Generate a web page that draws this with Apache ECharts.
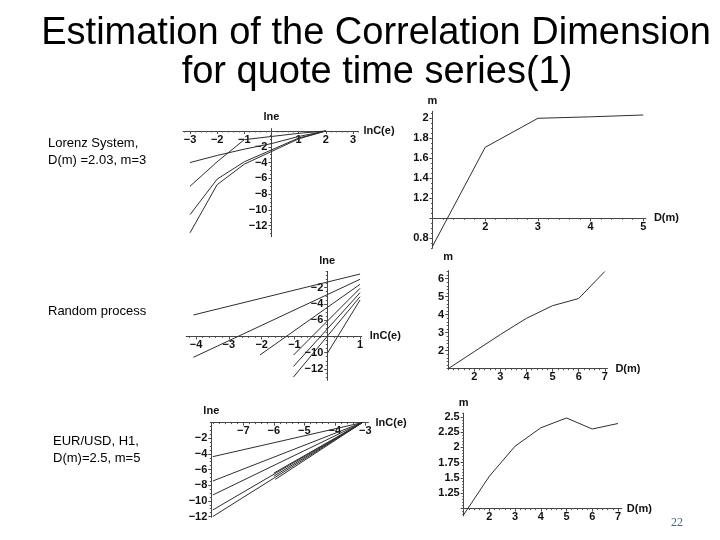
<!DOCTYPE html>
<html><head><meta charset="utf-8">
<script src="https://cdn.jsdelivr.net/npm/echarts@6/dist/echarts.min.js"></script>
<style>html,body{margin:0;padding:0;background:#fff}#c{width:720px;height:540px}</style>
</head><body><div id="c"></div>
<script>
// ---------- DATA ----------
// Panel 1: Lorenz system, ln C(e) vs ln e curves
const lorenzLnE = [-3, -2, -1, 0, 1, 2];
const lorenzC1 = [-4.0, -3.1, -2.3, -1.6, -0.7, 0];
const lorenzC2 = [-7.0, -3.9, -1.1, -0.7, -0.3, 0];
const lorenzC3 = [-10.6, -6.1, -3.9, -2.4, -0.9, 0];
const lorenzC4 = [-12.9, -6.8, -4.2, -2.6, -1.0, 0];
// Panel 2: Lorenz D(m)
const lorenzM = [1, 2, 3, 4, 5];
const lorenzD = [0.72, 1.71, 2.0, 2.015, 2.033];
// Panel 3: random process, straight segments (start -> end)
const randStartX = [-4.08, -4.08, -2.05, -1.03, -1.03, -1.03, 0];
const randStartY = [-5.36, -10.57, -10.28, -10.3, -11.7, -13.0, -10.1];
const randEndX = [1, 1, 1, 1, 1, 1, 1];
const randEndY = [-0.32, -0.97, -1.59, -2.08, -2.62, -3.11, -3.52];
// Panel 4: random process D(m)
const randM = [1, 2, 3, 4, 5, 6, 7];
const randD = [1, 1.95, 2.9, 3.8, 4.5, 4.9, 6.4];
// Panel 5: EUR/USD H1 curves
const eurStartX = [-8, -8, -8, -8, -8, -6.0, -6.0, -5.95];
const eurStartY = [-4.35, -7.46, -9.25, -11.16, -12.0, -6.45, -6.85, -7.25];
const eurKinkX = [null, null, null, null, -7.05, null, null, null];
const eurKinkY = [null, null, null, null, -9.67, null, null, null];
const eurEndX = [-3.1, -3.1, -3.1, -3.1, -3.1, -3.1, -3.1, -3.1];
const eurEndY = [0, 0, 0, 0, 0, 0, 0, 0];
// Panel 6: EUR/USD D(m)
const eurM = [1, 2, 3, 4, 5, 6, 7];
const eurD = [0.9, 1.53, 2.02, 2.32, 2.48, 2.3, 2.39];

// Tick labels
const p1XLabels = [-3, -2, -1, 1, 2, 3];
const p1YLabels = [-12, -10, -8, -6, -4, -2];
const p2XLabels = [2, 3, 4, 5];
const p2YLabels = [0.8, 1.2, 1.4, 1.6, 1.8, 2];
const p3XLabels = [-4, -3, -2, -1, 1];
const p3YLabels = [-12, -10, -6, -4, -2];
const p4XLabels = [2, 3, 4, 5, 6, 7];
const p4YLabels = [2, 3, 4, 5, 6];
const p5XLabels = [-7, -6, -5, -4, -3];
const p5YLabels = [-12, -10, -8, -6, -4, -2];
const p6XLabels = [2, 3, 4, 5, 6, 7];
const p6YLabels = [1.25, 1.5, 1.75, 2, 2.25, 2.5];

// ---------- BUILD ----------
const FONT = "'Liberation Sans', Arial, sans-serif";
const LINE = '#2e2e2e';
const zip = (xs, ys) => xs.map((x, i) => [x, ys[i]]);
function steps(min, max, step) {
  const a = []; let k = Math.ceil(min / step - 1e-9);
  for (let v = k * step; v <= max + 1e-9; k++, v = k * step) a.push(+v.toFixed(4));
  return a;
}
const fmt = v => String(+(+v).toFixed(2)).replace('-', '\u2212');

const lorenzSeries = [lorenzC1, lorenzC2, lorenzC3, lorenzC4].map(c => zip(lorenzLnE, c));
const randSeries = randStartX.map((_, i) => [[randStartX[i], randStartY[i]], [randEndX[i], randEndY[i]]]);
const eurSeries = eurStartX.map((_, i) => {
  const d = [[eurStartX[i], eurStartY[i]]];
  if (eurKinkX[i] !== null) d.push([eurKinkX[i], eurKinkY[i]]);
  d.push([eurEndX[i], eurEndY[i]]);
  return d;
});

// x.cross = y value where the x axis sits; y.cross = x value where the y axis sits
const panels = [
  { g: [183.2, 128.6, 175.2, 108.2],
    x: { min: -3.25, max: 3.2, labels: p1XLabels, major: [-3,-2,-1,1,2,3], ms: 0.2, name: 'lnC(e)', gap: 5, cross: 0 },
    y: { min: -13.4, max: 0.3, labels: p1YLabels, major: p1YLabels, ms: 0.5, name: 'lne', gap: 6, cross: 0 },
    s: lorenzSeries },
  { g: [432.5, 111.3, 213.4, 137],
    x: { min: 1, max: 5.05, labels: p2XLabels, major: [2,3,4,5], ms: 0.2, name: 'D(m)', gap: 8, cross: 1 },
    y: { min: 0.7, max: 2.07, labels: p2YLabels, major: [0.8,1,1.2,1.4,1.6,1.8,2], ms: 0.05, name: 'm', gap: 5, cross: 1 },
    s: [zip(lorenzM, lorenzD)] },
  { g: [186.2, 271.4, 175.5, 108.9],
    x: { min: -4.3, max: 1.05, labels: p3XLabels, major: [-4,-3,-2,-1,1], ms: 0.2, name: 'lnC(e)', gap: 8, cross: -8 },
    y: { min: -13.4, max: 0, labels: p3YLabels, major: [-12,-10,-8,-6,-4,-2], ms: 0.5, name: 'lne', gap: 5, cross: 0 },
    s: randSeries },
  { g: [448.2, 270.6, 159.2, 98.1],
    x: { min: 1, max: 7.1, labels: p4XLabels, major: p4XLabels, ms: 0.2, name: 'D(m)', gap: 8, cross: 1 },
    y: { min: 1, max: 6.45, labels: p4YLabels, major: p4YLabels, ms: 0.2, name: 'm', gap: 8, cross: 1 },
    s: [zip(randM, randD)] },
  { g: [211.3, 422.6, 157.1, 94.7],
    x: { min: -8.05, max: -2.9, labels: p5XLabels, major: p5XLabels, ms: 0.2, name: 'lnC(e)', gap: 4, cross: 0 },
    y: { min: -12.1, max: 0, labels: p5YLabels, major: p5YLabels, ms: 0.5, name: 'lne', gap: 6, cross: -8.05 },
    s: eurSeries },
  { g: [463.7, 413.1, 158.1, 102.8],
    x: { min: 1, max: 7.15, labels: p6XLabels, major: p6XLabels, ms: 0.2, name: 'D(m)', gap: 5, cross: 1 },
    y: { min: 0.88, max: 2.56, labels: p6YLabels, major: [1,1.25,1.5,1.75,2,2.25,2.5], ms: 0.05, name: 'm', gap: 5, cross: 1 },
    s: [zip(eurM, eurD)] }
];

const grid = [], xAxis = [], yAxis = [], series = [];
const labStyle = { fontFamily: FONT, fontSize: 11, fontWeight: 'bold', color: '#111' };
const nameStyle = { fontFamily: FONT, fontSize: 11, fontWeight: 'bold', color: '#111' };
panels.forEach((p, i) => {
  grid.push({ left: p.g[0], top: p.g[1], width: p.g[2], height: p.g[3], outerBoundsMode: 'none', containLabel: false });
  const xi = 2 * i, yi = 2 * i;
  const xOff = -((p.x.cross - p.y.min) / (p.y.max - p.y.min)) * p.g[3];
  const yOff = -((p.y.cross - p.x.min) / (p.x.max - p.x.min)) * p.g[2];
  const xBase = {
    type: 'value', gridIndex: i, min: p.x.min, max: p.x.max, position: 'bottom',
    offset: xOff, splitLine: { show: false }
  };
  xAxis.push(Object.assign({}, xBase, {
    name: p.x.name, nameLocation: 'end', nameGap: p.x.gap, nameTextStyle: nameStyle,
    axisLine: { show: true, onZero: false, lineStyle: { color: '#444', width: 1 } },
    axisTick: { show: true, customValues: p.x.major, length: 3, lineStyle: { color: '#444' } },
    axisLabel: Object.assign({ customValues: p.x.labels, formatter: fmt, margin: 3 }, labStyle)
  }));
  xAxis.push(Object.assign({}, xBase, {
    axisLine: { show: false, onZero: false },
    axisTick: { show: true, customValues: steps(p.x.min, p.x.max, p.x.ms), length: 1.5, lineStyle: { color: '#555' } },
    axisLabel: { show: false }
  }));
  const yBase = {
    type: 'value', gridIndex: i, min: p.y.min, max: p.y.max, position: 'left',
    offset: yOff, splitLine: { show: false }
  };
  yAxis.push(Object.assign({}, yBase, {
    name: p.y.name, nameLocation: 'end', nameGap: p.y.gap, nameTextStyle: nameStyle,
    axisLine: { show: true, onZero: false, lineStyle: { color: '#444', width: 1 } },
    axisTick: { show: true, customValues: p.y.major, length: 3, lineStyle: { color: '#444' } },
    axisLabel: Object.assign({ customValues: p.y.labels, formatter: fmt, margin: 4 }, labStyle)
  }));
  yAxis.push(Object.assign({}, yBase, {
    axisLine: { show: false, onZero: false },
    axisTick: { show: true, customValues: steps(p.y.min, p.y.max, p.y.ms), length: 1.5, lineStyle: { color: '#555' } },
    axisLabel: { show: false }
  }));
  p.s.forEach(d => series.push({
    type: 'line', xAxisIndex: xi, yAxisIndex: yi, data: d, symbol: 'none',
    lineStyle: { color: LINE, width: 1 }, silent: true, animation: false
  }));
});

const txt = (x, y, text, size, extra) => ({
  type: 'text', x, y, silent: true,
  style: Object.assign({ text, fontFamily: FONT, fontSize: size, fill: '#000', textAlign: 'left', textVerticalAlign: 'middle' }, extra || {})
});

const chart = echarts.init(document.getElementById('c'), null, { renderer: 'canvas' });
chart.setOption({
  animation: false,
  backgroundColor: '#fff',
  grid, xAxis, yAxis, series,
  graphic: [
    txt(376, 34, 'Estimation of the Correlation Dimension', 38, { textAlign: 'center' }),
    txt(377, 73, 'for quote time series(1)', 38, { textAlign: 'center' }),
    txt(48, 143, 'Lorenz System,', 13),
    txt(48, 160, 'D(m) =2.03, m=3', 13),
    txt(48, 311, 'Random process', 13),
    txt(53, 441, 'EUR/USD, H1,', 13),
    txt(53, 458, 'D(m)=2.5, m=5', 13),
    txt(677, 523, '22', 12, { fontFamily: "'Liberation Serif', 'DejaVu Serif', serif", fill: '#4a5f87', textAlign: 'center' })
  ]
});
</script></body></html>
